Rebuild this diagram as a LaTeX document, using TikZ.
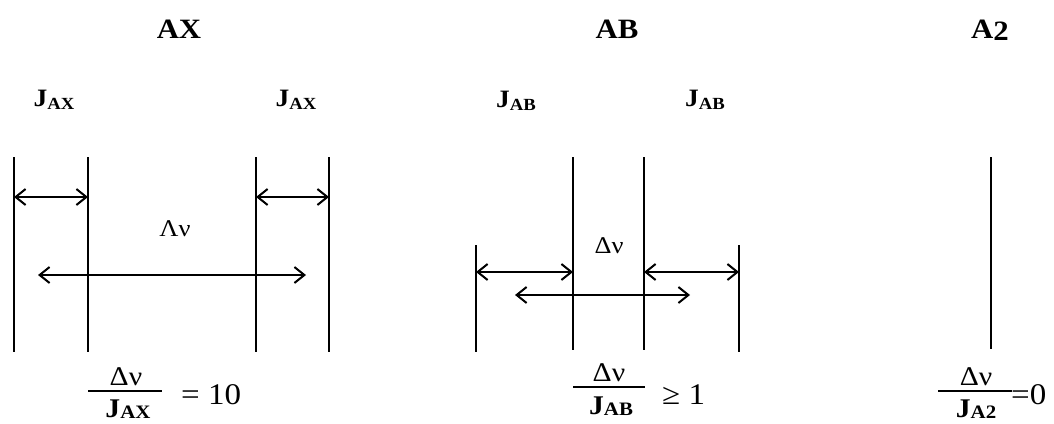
\documentclass[tikz,border=0pt]{standalone}
\usepackage{fontspec}
\setmainfont{Liberation Serif}[FakeStretch=1.1]
\usetikzlibrary{arrows.meta}
\newcommand\jlabsub[4]{#1\raisebox{-#3}{\fontsize{#4}{#4}\selectfont #2}}
\begin{document}
\begin{tikzpicture}[x=1pt,y=-1pt,
  peak/.style={line width=2pt},
  dimarrow/.style={line width=2pt,
    {Straight Barb[length=10pt,width=16pt,line width=2pt]}-{Straight Barb[length=10pt,width=16pt,line width=2pt]}},
  fracbar/.style={line width=1.6pt},
  ttl/.style={font=\fontsize{28}{30}\selectfont\bfseries,inner sep=0pt,anchor=base},
  jlab/.style={font=\fontsize{25}{27}\selectfont\bfseries,inner sep=0pt,anchor=base},
  midlab/.style={font=\fontsize{24}{26}\selectfont,inner sep=0pt,anchor=base},
  num/.style={font=\fontsize{27}{29}\selectfont,inner sep=0pt,anchor=base},
  den/.style={font=\fontsize{27}{29}\selectfont\bfseries,inner sep=0pt,anchor=base},
  rel/.style={font=\fontsize{30}{33}\selectfont,inner sep=0pt,anchor=base west}]
\useasboundingbox (0,0) rectangle (1054,423);

% ---------- AX ----------
\node[ttl] (tAX) at (179,38) {AX};
\node[jlab] (j1) at (54,106) {\jlabsub{J}{AX}{3pt}{17}};
\node[jlab] (j2) at (296,106) {\jlabsub{J}{AX}{3pt}{17}};
\coordinate (a1t) at (14,157);  \coordinate (a1b) at (14,352);
\coordinate (a2t) at (88,157);  \coordinate (a2b) at (88,352);
\coordinate (a3t) at (256,157); \coordinate (a3b) at (256,352);
\coordinate (a4t) at (329,157); \coordinate (a4b) at (329,352);
\draw[peak] (a1t) -- (a1b);
\draw[peak] (a2t) -- (a2b);
\draw[peak] (a3t) -- (a3b);
\draw[peak] (a4t) -- (a4b);
\coordinate (s1l) at (14,197);  \coordinate (s1r) at (88,197);
\coordinate (s2l) at (256,197); \coordinate (s2r) at (329,197);
\draw[dimarrow] (s1l) -- (s1r);
\draw[dimarrow] (s2l) -- (s2r);
\coordinate (ll) at (38,275); \coordinate (lr) at (306,275);
\draw[dimarrow] (ll) -- (lr);
\node[midlab] (dAX) at (175,236) {Λν};
\node[num] (nAX) at (126,385) {Δν};
\coordinate (bAXl) at (88,391); \coordinate (bAXr) at (162,391);
\draw[fracbar] (bAXl) -- (bAXr);
\node[den] (dnAX) at (128,417) {\jlabsub{J}{AX}{1pt}{19}};
\node[rel] (rAX) at (181,404) {= 10};

% ---------- AB ----------
\node[ttl] (tAB) at (617,38) {AB};
\node[jlab] (j3) at (516,107) {\jlabsub{J}{AB}{3pt}{17}};
\node[jlab] (j4) at (705,106) {\jlabsub{J}{AB}{3pt}{17}};
\coordinate (b1t) at (476,245); \coordinate (b1b) at (476,352);
\coordinate (b2t) at (573,157); \coordinate (b2b) at (573,350);
\coordinate (b3t) at (644,157); \coordinate (b3b) at (644,350);
\coordinate (b4t) at (739,245); \coordinate (b4b) at (739,352);
\draw[peak] (b1t) -- (b1b);
\draw[peak] (b2t) -- (b2b);
\draw[peak] (b3t) -- (b3b);
\draw[peak] (b4t) -- (b4b);
\coordinate (t1l) at (476,272); \coordinate (t1r) at (573,272);
\coordinate (t2l) at (644,272); \coordinate (t2r) at (739,272);
\draw[dimarrow] (t1l) -- (t1r);
\draw[dimarrow] (t2l) -- (t2r);
\coordinate (ml) at (515,295); \coordinate (mr) at (690,295);
\draw[dimarrow] (ml) -- (mr);
\node[midlab] (dAB) at (609,253) {Δν};
\node[num] (nAB) at (609,381) {Δν};
\coordinate (bABl) at (573,387); \coordinate (bABr) at (645,387);
\draw[fracbar] (bABl) -- (bABr);
\node[den] (dnAB) at (611,414) {\jlabsub{J}{AB}{1pt}{19}};
\node[rel] (rAB) at (662,404) {≥ 1};

% ---------- A2 ----------
\node[ttl] (tA2) at (990,38) {A\raisebox{-2pt}{2}};
\coordinate (c1t) at (991,157); \coordinate (c1b) at (991,349);
\draw[peak] (c1t) -- (c1b);
\node[num] (nA2) at (976,385) {Δν};
\coordinate (bA2l) at (938,391); \coordinate (bA2r) at (1012,391);
\draw[fracbar] (bA2l) -- (bA2r);
\node[den] (dnA2) at (976,417) {\jlabsub{J}{A2}{1pt}{19}};
\node[rel] (rA2) at (1011,404) {=0};
\end{tikzpicture}
\end{document}
